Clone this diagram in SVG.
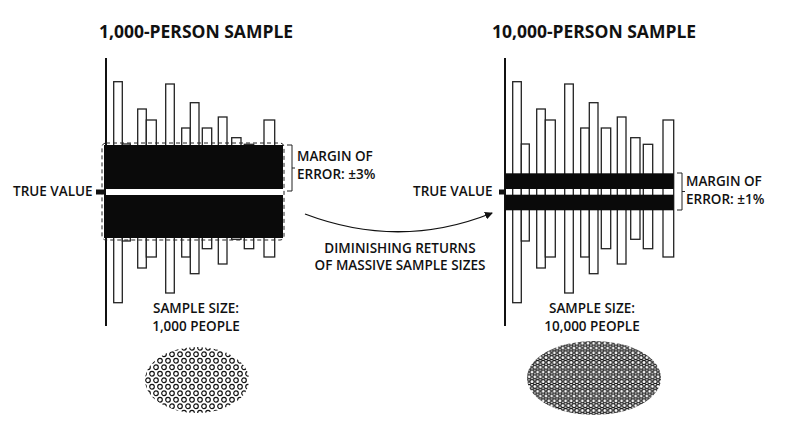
<svg xmlns="http://www.w3.org/2000/svg" width="800" height="447" viewBox="0 0 800 447">
<style>
text{font-family:"Open Sans","Liberation Sans",sans-serif;fill:#111;}
.t{font-size:17.5px;font-weight:700;text-anchor:middle}
.l{font-size:13.5px;font-weight:600}
.bar{fill:#fff;stroke:#222;stroke-width:1.3}
.ax{stroke:#111;stroke-width:2}
.br{fill:none;stroke:#222;stroke-width:1}
</style>
<defs>
<pattern id="pl" width="8" height="13" patternUnits="userSpaceOnUse">
<circle cx="4" cy="3.25" r="2.3" fill="#fff" stroke="#111" stroke-width="1.2"/>
<circle cx="0" cy="9.75" r="2.3" fill="#fff" stroke="#111" stroke-width="1.2"/>
<circle cx="8" cy="9.75" r="2.3" fill="#fff" stroke="#111" stroke-width="1.2"/>
</pattern>
<pattern id="pr" width="5.6" height="9.6" patternUnits="userSpaceOnUse">
<circle cx="2.8" cy="2.4" r="2.1" fill="#fff" stroke="#111" stroke-width="1.2"/>
<circle cx="0" cy="7.2" r="2.1" fill="#fff" stroke="#111" stroke-width="1.2"/>
<circle cx="5.6" cy="7.2" r="2.1" fill="#fff" stroke="#111" stroke-width="1.2"/>
</pattern>
<g id="bars">
<rect x="512.7" y="81.7" width="8.6" height="221"/>
<rect x="521.3" y="144" width="8" height="97"/>
<rect x="536.7" y="109" width="8.6" height="159"/>
<rect x="545.3" y="120" width="10" height="137"/>
<rect x="564.7" y="84" width="8.6" height="209"/>
<rect x="580.7" y="128" width="8.6" height="129"/>
<rect x="589.3" y="102.7" width="8.7" height="171"/>
<rect x="601.3" y="128" width="9.4" height="120.7"/>
<rect x="617.3" y="117" width="8.7" height="147"/>
<rect x="630.7" y="137.7" width="9.3" height="101.6"/>
<rect x="643.3" y="144.3" width="9.4" height="104.4"/>
<rect x="663" y="120" width="10.7" height="137"/>
</g>
<marker id="ah" markerWidth="8" markerHeight="8" refX="7" refY="4" orient="auto" markerUnits="userSpaceOnUse">
<path d="M0,0 L8,4 L0,8 Z" fill="#111"/>
</marker>
</defs>
<rect width="800" height="447" fill="#fff"/>

<g id="left-chart">
<text class="t" x="196" y="38">1,000-PERSON SAMPLE</text>
<use href="#bars" class="bar" transform="translate(-399,0)"/>
<line class="ax" x1="106" y1="58" x2="106" y2="326"/>
<rect x="102" y="143" width="182" height="97" rx="4" fill="none" stroke="#222" stroke-width="1" stroke-dasharray="4,3"/>
<rect x="104" y="145" width="179" height="93" fill="#0a0a0a"/>
<rect x="106" y="189" width="177" height="6" fill="#fff"/>
<rect x="96" y="189.5" width="10" height="5" fill="#111"/>
<text class="l" x="13" y="196">TRUE VALUE</text>
<path class="br" d="M287,145 H292 V191 H287 M292,168 H295"/>
<text class="l" x="297" y="161">MARGIN OF</text>
<text class="l" x="297" y="179">ERROR: ±3%</text>
<text class="l" x="196" y="313" text-anchor="middle">SAMPLE SIZE:</text>
<text class="l" x="196" y="331" text-anchor="middle">1,000 PEOPLE</text>
<ellipse cx="197" cy="380" rx="52" ry="33" fill="url(#pl)"/>
</g>

<g id="right-chart">
<text class="t" x="594" y="38">10,000-PERSON SAMPLE</text>
<use href="#bars" class="bar"/>
<line class="ax" x1="505" y1="58" x2="505" y2="326"/>
<rect x="505" y="173.3" width="168.7" height="15.7" fill="#0a0a0a"/>
<rect x="505" y="194.7" width="168.7" height="15.6" fill="#0a0a0a"/>
<rect x="499" y="189.5" width="6" height="5" fill="#111"/>
<text class="l" x="413" y="196">TRUE VALUE</text>
<path class="br" d="M677,173 H682 V210 H677 M682,191.5 H685"/>
<text class="l" x="686" y="186">MARGIN OF</text>
<text class="l" x="686" y="204">ERROR: ±1%</text>
<text class="l" x="592" y="313" text-anchor="middle">SAMPLE SIZE:</text>
<text class="l" x="592" y="331" text-anchor="middle">10,000 PEOPLE</text>
<ellipse cx="594" cy="378" rx="67" ry="37" fill="url(#pr)"/>
</g>

<g id="connectors">
<path d="M305,214 Q400,250 492,213" fill="none" stroke="#111" stroke-width="1.3" marker-end="url(#ah)"/>
</g>
<g id="caption">
<text class="l" x="400" y="253" text-anchor="middle">DIMINISHING RETURNS</text>
<text class="l" x="400" y="270" text-anchor="middle">OF MASSIVE SAMPLE SIZES</text>
</g>
</svg>
